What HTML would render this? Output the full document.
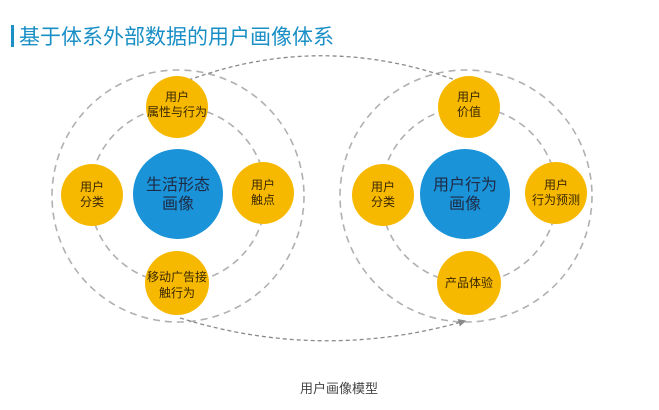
<!DOCTYPE html>
<html><head><meta charset="utf-8"><style>
body{margin:0;background:#fff;}
svg text{font-family:"Liberation Sans","Noto Sans CJK SC",sans-serif;}
</style></head><body>
<svg width="659" height="405" viewBox="0 0 659 405" xmlns="http://www.w3.org/2000/svg">
<defs><marker id="a" markerWidth="8" markerHeight="8" refX="5" refY="4" orient="auto"><path d="M0,1 L6,4 L0,7 Z" fill="#8a8a8a"/></marker></defs>
<rect x="11" y="25" width="3" height="22" fill="#1a8fc6"/>
<text x="19" y="44" font-size="21" fill="#1a8fc6">基于体系外部数据的用户画像体系</text>
<g fill="none" stroke="#b0b0b0" stroke-width="1.6" stroke-dasharray="7,5">
<circle cx="178" cy="196" r="126"/><circle cx="178" cy="195" r="88"/>
<circle cx="466" cy="196" r="126"/><circle cx="469" cy="195" r="88"/>
</g>
<g fill="none" stroke="#8a8a8a" stroke-width="1.3" stroke-dasharray="4,3">
<path d="M466,84 Q322,28 181,83" marker-end="url(#a)"/>
<path d="M180,318 Q322,362 465,321" marker-end="url(#a)"/>
</g>
<g fill="#f7b900">
<circle cx="177" cy="107" r="31"/><circle cx="92" cy="195" r="31"/><circle cx="263" cy="193" r="31"/><circle cx="177" cy="283" r="32"/>
<circle cx="469" cy="107" r="31"/><circle cx="383" cy="195" r="31"/><circle cx="556" cy="193" r="31"/><circle cx="469" cy="283" r="32"/>
</g>
<g fill="#1a93d9"><circle cx="178" cy="194" r="45"/><circle cx="465" cy="194" r="45"/></g>
<g font-size="12" fill="#3a2800" text-anchor="middle">
<text x="177" y="101">用户</text><text x="177" y="116">属性与行为</text>
<text x="92" y="191">用户</text><text x="92" y="206">分类</text>
<text x="263" y="189">用户</text><text x="263" y="204">触点</text>
<text x="177" y="281">移动广告接</text><text x="177" y="297">触行为</text>
<text x="469" y="101">用户</text><text x="469" y="116">价值</text>
<text x="383" y="191">用户</text><text x="383" y="206">分类</text>
<text x="556" y="189">用户</text><text x="556" y="204">行为预测</text>
<text x="469" y="287">产品体验</text>
</g>
<g font-size="16" fill="#1f2a44" text-anchor="middle">
<text x="178" y="190">生活形态</text><text x="178" y="209">画像</text>
<text x="465" y="190">用户行为</text><text x="465" y="209">画像</text>
</g>
<text x="339" y="393" font-size="13" fill="#444" text-anchor="middle">用户画像模型</text>
</svg>
</body></html>
